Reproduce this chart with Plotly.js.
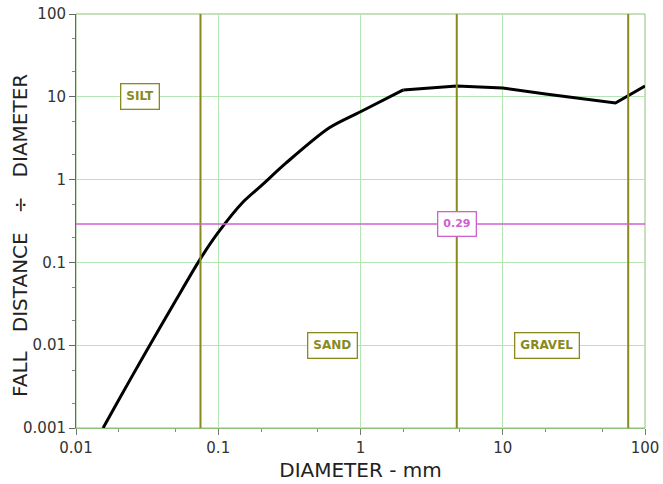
<!DOCTYPE html>
<html><head><meta charset="utf-8">
<script src="https://cdn.plot.ly/plotly-3.0.1.min.js"></script>
<style>html,body{margin:0;padding:0;background:#fff}#c{width:663px;height:484px}</style>
</head><body><div id="c"></div>
<script>
var diameter = [0.0155, 0.02, 0.03, 0.05, 0.075, 0.1, 0.15, 0.2, 0.3, 0.6, 1, 2, 4.75, 10, 20, 62, 100];
var ratio    = [0.001, 0.0022, 0.0075, 0.0342, 0.111, 0.23, 0.54, 0.84, 1.59, 4.2, 6.6, 12.1, 13.5, 12.8, 10.8, 8.4, 13.5];
var boundaries = [0.075, 4.75, 76.2];
var threshold = 0.29;
var xTicks = [0.01, 0.1, 1, 10, 100];
var xTickText = ["0.01", "0.1", "1", "10", "100"];
var yTicks = [0.001, 0.01, 0.1, 1, 10, 100];
var yTickText = ["0.001", "0.01", "0.1", "1", "10", "100"];
var zoneLabels = ["SILT", "SAND", "GRAVEL"];
var zoneX = [0.028, 0.635, 20.6];
var zoneY = [10, 0.01, 0.01];
var xTitle = "DIAMETER - mm";
var yTitleWords = ["FALL", "DISTANCE", "÷", "DIAMETER"];
var smoothEnd = 11; // index of 2 mm: smooth curve below, straight segments above

var olive = "#8a8a1c";
var magenta = "#d060d0";
var grid = "#b4e6b4";
var fontFam = "DejaVu Sans, Verdana, sans-serif";
var sp = "\u00a0\u00a0\u00a0";

var shapes = boundaries.map(function(b){
  return {type:"line", xref:"x", yref:"paper", x0:b, x1:b, y0:0, y1:1,
          line:{color:olive, width:2}};
});
shapes.push({type:"line", xref:"paper", yref:"y", x0:0, x1:1, y0:threshold, y1:threshold,
             line:{color:magenta, width:1.5}});
shapes.push({type:"rect", xref:"paper", yref:"paper", x0:0, x1:1, y0:0, y1:1,
  line:{color:"#8fbf7a", width:1}, layer:"below"});

var annotations = zoneLabels.map(function(t,i){
  return {x:Math.log10(zoneX[i]), y:Math.log10(zoneY[i]), xref:"x", yref:"y", text:"<b>"+t+"</b>",
          showarrow:false, font:{family:fontFam, size:12, color:olive},
          bgcolor:"#ffffff", bordercolor:olive, borderwidth:1.3, borderpad:5};
});
annotations.push({x:Math.log10(boundaries[1]), y:Math.log10(threshold), xref:"x", yref:"y", text:"<b>"+threshold+"</b>",
  showarrow:false, font:{family:fontFam, size:11, color:magenta},
  bgcolor:"#ffffff", bordercolor:magenta, borderwidth:1.3, borderpad:5});
// y-axis title (placed like the reference, overlapping the tick-label column)
annotations.push({xref:"paper", yref:"paper", x:-0.0984, y:0.464, xanchor:"center", yanchor:"middle",
  textangle:-90, showarrow:false, text:yTitleWords.join(sp),
  font:{family:fontFam, size:20, color:"#222222"}});

var data = [
  {x:diameter.slice(0, smoothEnd+1), y:ratio.slice(0, smoothEnd+1), type:"scatter", mode:"lines",
   line:{color:"#000000", width:3, shape:"spline", smoothing:0.8}, hoverinfo:"skip"},
  {x:diameter.slice(smoothEnd), y:ratio.slice(smoothEnd), type:"scatter", mode:"lines",
   line:{color:"#000000", width:3}, hoverinfo:"skip"}
];

var layout = {
  width:663, height:484,
  margin:{l:76, r:18, t:14, b:56},
  paper_bgcolor:"#ffffff", plot_bgcolor:"#ffffff",
  showlegend:false,
  font:{family:fontFam, color:"#333333"},
  xaxis:{type:"log", range:[-2,2], tickvals:xTicks, ticktext:xTickText,
         showgrid:true, gridcolor:grid, gridwidth:1,
         showline:true, linecolor:"#8fbf7a", linewidth:1,
         ticks:"outside", ticklen:6, tickcolor:"#777777",
         minor:{ticks:"outside", ticklen:3, tickcolor:"#888888", showgrid:false, dtick:"D2"},
         tickfont:{size:15, color:"#333333"}, zeroline:false,
         title:{text:xTitle, font:{size:20, color:"#222222"}, standoff:6}},
  yaxis:{type:"log", range:[-3,2], tickvals:yTicks, ticktext:yTickText,
         showgrid:true, gridcolor:grid, gridwidth:1,
         showline:true, linecolor:"#666666", linewidth:1,
         ticks:"outside", ticklen:6, tickcolor:"#666666",
         minor:{ticks:"outside", ticklen:3, tickcolor:"#888888", showgrid:false, dtick:"D2"},
         tickfont:{size:15, color:"#333333"}, zeroline:false},
  shapes:shapes,
  annotations:annotations
};

Plotly.newPlot("c", data, layout, {displayModeBar:false, staticPlot:true});
</script></body></html>
